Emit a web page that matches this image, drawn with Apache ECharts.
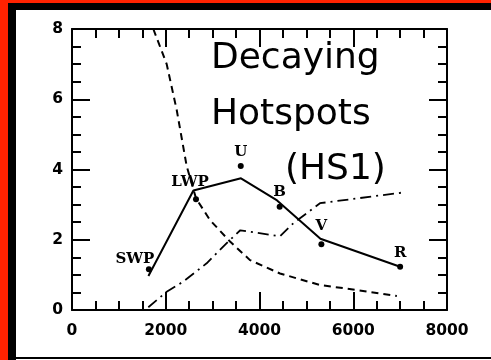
<!DOCTYPE html>
<html>
<head>
<meta charset="utf-8">
<script src="https://cdn.jsdelivr.net/npm/echarts@6/dist/echarts.min.js"></script>
<style>
  html, body { margin: 0; padding: 0; background: #fff; }
  #main { width: 491px; height: 360px; }
</style>
</head>
<body>
<div id="main"></div>
<script>
// solid curve
var solidX = [1630, 2590, 3605, 4375, 5300, 7000];
var solidY = [0.97, 3.40, 3.75, 3.12, 2.03, 1.23];

// dashed curve
var dashX = [1735, 2020, 2233, 2446, 2645, 2944, 3371, 3797, 4437, 5291, 6073, 6930];
var dashY = [8.0, 7.0, 5.7, 4.1, 3.18, 2.56, 1.95, 1.42, 1.04, 0.71, 0.57, 0.40];

// dash-dot curve
var dotX = [1628, 2020, 2375, 2873, 3335, 3590, 4437, 4722, 5290, 7030];
var dotY = [0.08, 0.52, 0.81, 1.33, 1.95, 2.27, 2.10, 2.47, 3.04, 3.34];

// measured points
var bandNames = ["SWP", "LWP", "U", "B", "V", "R"];
var bandX = [1640, 2645, 3600, 4430, 5320, 7000];
var bandY = [1.16, 3.15, 4.10, 2.94, 1.87, 1.23];

function pairs(xs, ys) {
  return xs.map(function (x, i) { return [x, ys[i]]; });
}

// label offsets for the band names (px)
var labelOffsets = [[-14, -10], [-6, -17], [0, -14], [0, -15], [0, -18], [0, -14]];

var myChart = echarts.init(document.getElementById("main"));

function ticks(major) {
  return { show: true, inside: true, length: major ? 18 : 9, lineStyle: { color: "#000", width: 2 } };
}

function frameAxis(extra) {
  return Object.assign({
    type: "value",
    axisLine: { show: true, onZero: false, lineStyle: { color: "#000", width: 2 } },
    axisTick: ticks(true),
    minorTick: Object.assign({ splitNumber: 4 }, ticks(false)),
    splitLine: { show: false }
  }, extra);
}

var labelFont = {
  color: "#000",
  fontFamily: "DejaVu Sans",
  fontWeight: "bold",
  fontSize: 15.5,
  formatter: function (v) { return String(v); }
};

var option = {
  animation: false,
  grid: { left: 72, right: 44, top: 29, bottom: 50 },
  graphic: [
    // frame
    { type: "rect", shape: { x: 0, y: 0, width: 8, height: 360 }, style: { fill: "#ff2200" } },
    { type: "rect", shape: { x: 0, y: 0, width: 491, height: 3 }, style: { fill: "#ff2200" } },
    { type: "rect", shape: { x: 8, y: 3, width: 483, height: 7 }, style: { fill: "#000" } },
    { type: "rect", shape: { x: 8, y: 3, width: 8, height: 357 }, style: { fill: "#000" } },
    { type: "rect", shape: { x: 16, y: 357, width: 475, height: 2 }, style: { fill: "#000" } },
    // title text
    {
      type: "text", left: 211, top: 41, z: 10,
      style: { text: "Decaying", fill: "#000", font: "36px 'DejaVu Sans'" }
    },
    {
      type: "text", left: 211, top: 97, z: 10,
      style: { text: "Hotspots", fill: "#000", font: "36px 'DejaVu Sans'" }
    },
    {
      type: "text", left: 285, top: 152, z: 10,
      style: { text: "(HS1)", fill: "#000", font: "36px 'DejaVu Sans'" }
    }
  ],
  xAxis: [
    frameAxis({
      min: 0, max: 8000, interval: 2000,
      axisLabel: Object.assign({ margin: 13 }, labelFont)
    }),
    frameAxis({
      position: "top",
      min: 0, max: 8000, interval: 2000,
      axisLabel: { show: false }
    })
  ],
  yAxis: [
    frameAxis({
      min: 0, max: 8, interval: 2,
      axisLabel: Object.assign({ margin: 9 }, labelFont)
    }),
    frameAxis({
      position: "right",
      min: 0, max: 8, interval: 2,
      axisLabel: { show: false }
    })
  ],
  series: [
    {
      name: "solid",
      type: "line",
      data: pairs(solidX, solidY),
      symbol: "none",
      lineStyle: { color: "#000", width: 2 }
    },
    {
      name: "dashed",
      type: "line",
      data: pairs(dashX, dashY),
      symbol: "none",
      lineStyle: { color: "#000", width: 2, type: [7, 5] }
    },
    {
      name: "dashdot",
      type: "line",
      data: pairs(dotX, dotY),
      symbol: "none",
      lineStyle: { color: "#000", width: 1.8, type: [11, 5, 2, 5] }
    },
    {
      name: "bands",
      type: "scatter",
      symbol: "circle",
      symbolSize: 6,
      itemStyle: { color: "#000", opacity: 1 },
      data: bandNames.map(function (n, i) {
        return {
          value: [bandX[i], bandY[i]],
          name: n,
          label: { offset: labelOffsets[i] }
        };
      }),
      label: {
        show: true,
        position: "inside",
        formatter: "{b}",
        color: "#000",
        opacity: 1,
        textBorderWidth: 0,
        fontFamily: "DejaVu Serif",
        fontWeight: "bold",
        fontSize: 15
      }
    }
  ]
};

myChart.setOption(option);
</script>
</body>
</html>
